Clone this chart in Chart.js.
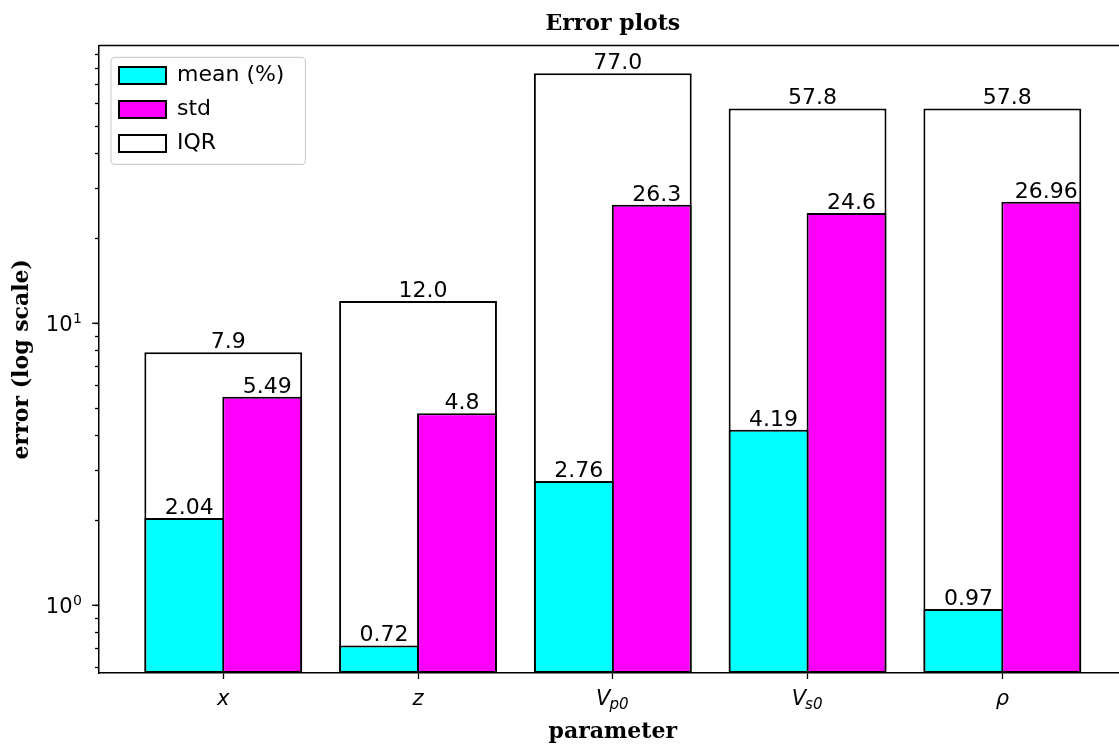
<!DOCTYPE html>
<html>
<head>
<style>
    html, body { margin: 0; padding: 0; overflow: hidden; background: #fff; }
    canvas { display: block; }
</style>
</head>
<body>
    <canvas id="errorChart" width="1226" height="745"></canvas>
    <script src="https://cdn.jsdelivr.net/npm/chart.js"></script>

    <script>
        // x labels: text after '_' is drawn as a subscript
        const parameters = ['x', 'z', 'V_p0', 'V_s0', 'ρ']
        const meanErr = [2.04, 0.72, 2.76, 4.19, 0.97]
        const stdErr = [5.49, 4.8, 26.3, 24.6, 26.96]
        const iqrErr = [7.9, 12.0, 77.0, 57.8, 57.8]

        // y ticks: minor marks everywhere, labels (with '^' as superscript) only on decades
        const yTicks = [0.6, 0.7, 0.8, 0.9, 1, 2, 3, 4, 5, 6, 7, 8, 9, 10, 20, 30, 40, 50, 60, 70, 80, 90]
        const yMajor = [1, 10]
        const yMajorLabels = ['10^0', '10^1']

        const sans = "'DejaVu Sans', sans-serif"
        const serif = "'DejaVu Serif', serif"

        const toPoints = (arr) => arr.map((v, i) => ({ x: i, y: v }))

        const formatters = {
            'mean (%)': v => String(v),
            'std': v => String(v),
            'IQR': v => v.toFixed(1)
        }

        const overlay = {
            id: 'overlay',
            afterLayout(chart) {
                // legend sits inside the axes, upper left
                chart.legend.left = chart.chartArea.left + 8
                chart.legend.top = chart.chartArea.top + 7
            },
            beforeDatasetsDraw(chart) {
                const boxes = chart.legend.legendHitBoxes
                if (!boxes || !boxes.length) return
                const left = Math.min(...boxes.map(b => b.left)) - 8
                const top = Math.min(...boxes.map(b => b.top)) - 7
                const right = Math.max(...boxes.map(b => b.left + b.width)) + 21
                const bottom = Math.max(...boxes.map(b => b.top + b.height)) + 10
                const ctx = chart.ctx
                ctx.save()
                ctx.strokeStyle = '#d0d0d0'
                ctx.lineWidth = 1.2
                ctx.beginPath()
                ctx.roundRect(left, top, right - left, bottom - top, 4)
                ctx.stroke()
                ctx.restore()
            },
            afterDatasetsDraw(chart) {
                const ctx = chart.ctx
                ctx.save()
                ctx.font = '22px ' + sans
                ctx.fillStyle = '#000'
                ctx.textAlign = 'center'
                ctx.textBaseline = 'alphabetic'
                chart.data.datasets.forEach((ds, di) => {
                    const meta = chart.getDatasetMeta(di)
                    meta.data.forEach((bar, i) => {
                        const txt = formatters[ds.label](ds.data[i].y)
                        ctx.fillText(txt, bar.x + 5, bar.y - 4)
                    })
                })
                ctx.restore()
            },
            afterDraw(chart) {
                const ctx = chart.ctx
                const area = chart.chartArea
                const yScale = chart.scales.y
                const xScale = chart.scales.x
                ctx.save()
                ctx.strokeStyle = '#000'
                ctx.lineWidth = 1.5
                ctx.beginPath()
                ctx.moveTo(area.left, area.top)
                ctx.lineTo(area.right, area.top)
                ctx.lineTo(area.right, area.bottom)
                ctx.stroke()

                // decade ticks: longer marks and 10^n labels
                ctx.lineWidth = 1.3
                ctx.fillStyle = '#000'
                ctx.textBaseline = 'alphabetic'
                yMajor.forEach((v, k) => {
                    const py = yScale.getPixelForValue(v)
                    ctx.beginPath()
                    ctx.moveTo(area.left - 7, py)
                    ctx.lineTo(area.left, py)
                    ctx.stroke()
                    const [base, exp] = yMajorLabels[k].split('^')
                    const rightX = area.left - 17
                    ctx.textAlign = 'right'
                    ctx.font = '14px ' + sans
                    const wExp = ctx.measureText(exp).width
                    ctx.fillText(exp, rightX, py)
                    ctx.font = '21px ' + sans
                    ctx.fillText(base, rightX - wExp - 0.5, py + 8)
                })

                // x tick labels with subscripts
                parameters.forEach((name, i) => {
                    const [base, sub] = name.split('_')
                    const px = xScale.getPixelForValue(i)
                    const baseY = area.bottom + 32
                    ctx.font = 'italic 21px ' + sans
                    const wBase = ctx.measureText(base).width
                    let wSub = 0
                    if (sub) {
                        ctx.font = 'italic 15px ' + sans
                        wSub = ctx.measureText(sub).width
                    }
                    const x0 = px - (wBase + wSub) / 2
                    ctx.textAlign = 'left'
                    ctx.font = 'italic 21px ' + sans
                    ctx.fillText(base, x0, baseY)
                    if (sub) {
                        ctx.font = 'italic 15px ' + sans
                        ctx.fillText(sub, x0 + wBase - 1, baseY + 4)
                    }
                })
                ctx.restore()
            }
        }

        const pairStyle = { borderColor: '#000', borderWidth: 2, borderSkipped: false, categoryPercentage: 0.8, barPercentage: 1.025 }

        const canvas = document.getElementById('errorChart').getContext('2d')
        const chart = new Chart(canvas, {
            type: 'bar',
            data: {
                datasets: [
                    { label: 'mean (%)', data: toPoints(meanErr), backgroundColor: '#00ffff', ...pairStyle },
                    { label: 'std', data: toPoints(stdErr), backgroundColor: '#ff00ff', ...pairStyle },
                    { label: 'IQR', data: toPoints(iqrErr), backgroundColor: '#ffffff', grouped: false, ...pairStyle, barPercentage: 1.013 }
                ]
            },
            plugins: [overlay],
            options: {
                responsive: false,
                animation: false,
                layout: { padding: { left: 0, right: 99.4, top: 0, bottom: 0 } },
                plugins: {
                    tooltip: { enabled: false },
                    title: {
                        display: true,
                        fullSize: false,
                        text: 'Error plots',
                        color: '#000',
                        font: { family: serif, size: 22, weight: 'bold' },
                        padding: { top: 11, bottom: 8 }
                    },
                    legend: {
                        position: 'chartArea',
                        align: 'start',
                        labels: {
                            color: '#000',
                            font: { family: sans, size: 22 },
                            boxWidth: 47,
                            boxHeight: 17,
                            padding: 12
                        }
                    }
                },
                scales: {
                    x: {
                        type: 'linear',
                        offset: false,
                        min: -0.638,
                        max: 4.638,
                        afterBuildTicks: (scale) => {
                            scale.ticks = parameters.map((_, i) => ({ value: i }))
                        },
                        afterFit: (scale) => { scale.height = 72 },
                        ticks: { display: false, autoSkip: false },
                        grid: { offset: false, drawOnChartArea: false, drawTicks: true, tickLength: 6, tickColor: '#000', tickWidth: 1.3 },
                        border: { display: true, color: '#000', width: 1.5 },
                        title: {
                            display: true,
                            text: 'parameter',
                            color: '#000',
                            font: { family: serif, size: 22, weight: 'bold' },
                            padding: { top: 0, bottom: 0 }
                        }
                    },
                    y: {
                        type: 'logarithmic',
                        min: 0.575,
                        max: 96.7,
                        afterBuildTicks: (scale) => {
                            scale.ticks = yTicks.map(v => ({ value: v }))
                        },
                        afterFit: (scale) => { scale.width = 99 },
                        ticks: { display: false, autoSkip: false },
                        grid: { drawOnChartArea: false, drawTicks: true, tickLength: 4, tickColor: '#000', tickWidth: 1.3 },
                        border: { display: true, color: '#000', width: 1.5 },
                        title: {
                            display: true,
                            text: 'error (log scale)',
                            color: '#000',
                            font: { family: serif, size: 22, weight: 'bold' },
                            padding: { top: 9, bottom: 0 }
                        }
                    }
                }
            }
        })
    </script>
</body>
</html>
